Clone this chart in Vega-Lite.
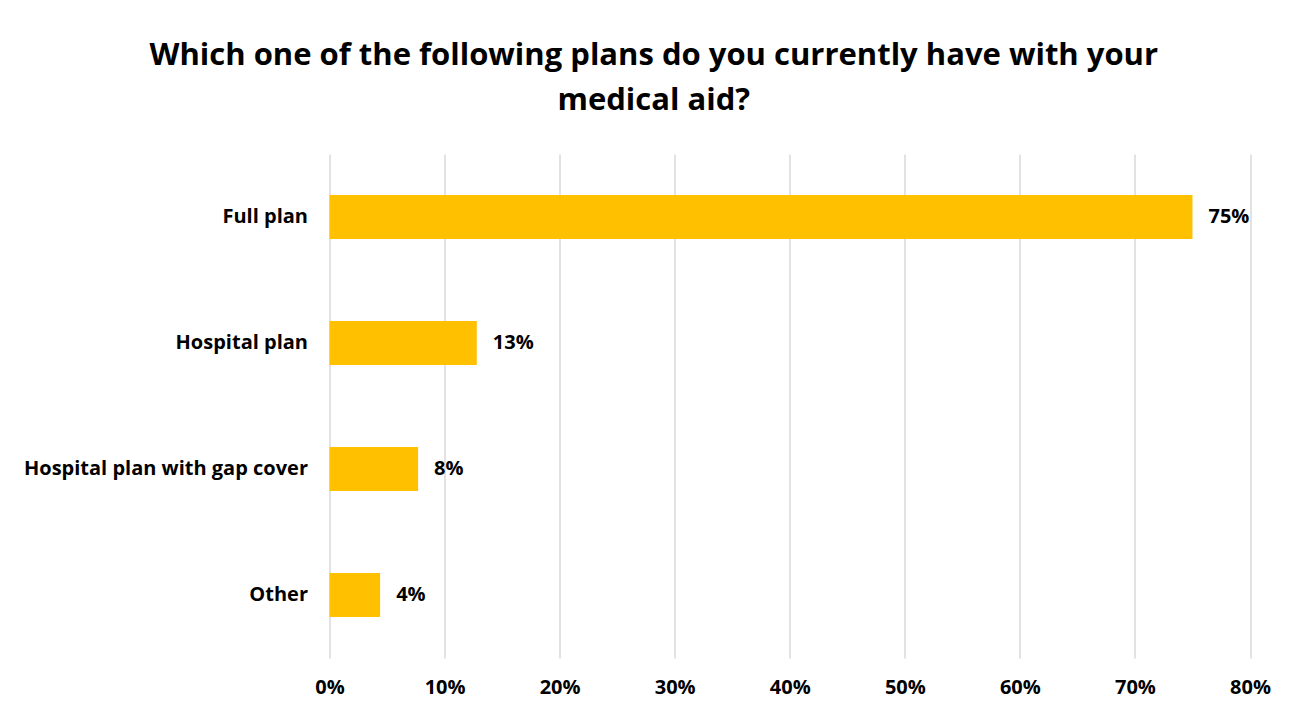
{
  "$schema": "https://vega.github.io/schema/vega-lite/v6.json",
  "width": 920.5,
  "height": 504,
  "autosize": {"type": "none"},
  "padding": {"left": 329.5, "top": 154, "right": 54, "bottom": 55},
  "background": "white",
  "title": {
    "text": ["Which one of the following plans do you currently have with your", "medical aid?"],
    "font": "Open Sans",
    "fontSize": 31,
    "fontWeight": "bold",
    "color": "black",
    "anchor": "middle",
    "frame": "group",
    "dx": -136,
    "offset": 37,
    "lineHeight": 45
  },
  "data": {
    "values": [
      {"plan": "Full plan", "share": 0.75},
      {"plan": "Hospital plan", "share": 0.128},
      {"plan": "Hospital plan with gap cover", "share": 0.077},
      {"plan": "Other", "share": 0.044}
    ]
  },
  "encoding": {
    "y": {
      "field": "plan",
      "type": "nominal",
      "sort": null,
      "scale": {"paddingInner": 0.65, "paddingOuter": 0.325},
      "axis": {
        "title": null,
        "labelFont": "Open Sans",
        "labelFontSize": 20,
        "labelFontWeight": "bold",
        "labelColor": "black",
        "labelPadding": 22,
        "labelLimit": 0,
        "ticks": false,
        "domain": false,
        "grid": false
      }
    },
    "x": {
      "field": "share",
      "type": "quantitative",
      "scale": {"domain": [0, 0.8], "nice": false},
      "axis": {
        "title": null,
        "format": ".0%",
        "values": [0, 0.1, 0.2, 0.3, 0.4, 0.5, 0.6, 0.7, 0.8],
        "labelFont": "Open Sans",
        "labelFontSize": 20,
        "labelFontWeight": "bold",
        "labelColor": "black",
        "labelPadding": 19,
        "labelFlush": false,
        "labelOverlap": false,
        "ticks": false,
        "domain": false,
        "grid": true,
        "gridColor": "#d9d9d9",
        "gridWidth": 1.5
      }
    }
  },
  "layer": [
    {"mark": {"type": "bar", "color": "#FFC000"}},
    {
      "mark": {"type": "text", "align": "left", "baseline": "middle", "dx": 16, "font": "Open Sans", "fontSize": 20, "fontWeight": "bold", "color": "black"},
      "encoding": {"text": {"field": "share", "type": "quantitative", "format": ".0%"}}
    }
  ],
  "config": {"view": {"stroke": null}}
}
